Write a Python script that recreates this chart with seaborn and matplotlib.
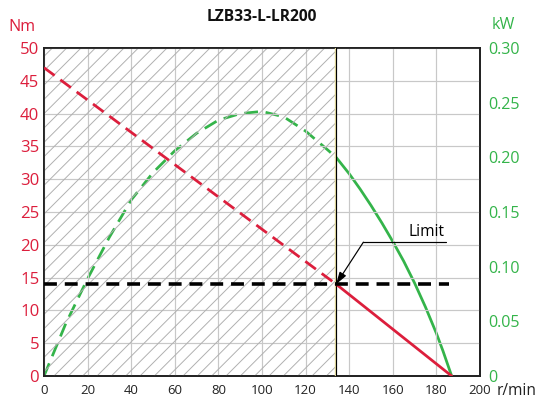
import matplotlib
matplotlib.use("Agg")
import matplotlib.pyplot as plt
import matplotlib.transforms as mtransforms
import seaborn as sns

# values
speed_limit = 134
limit_torque = 14
torque_speed_dashed = [0, 134]
torque_dashed = [47, 14]
torque_speed_solid = [134, 187]
torque_solid = [14, 0]
power_speed_dashed = [0, 10, 20, 30, 40, 50, 60, 70, 80, 90, 100, 110, 120, 130, 134]
power_dashed = [0, 0.048, 0.089, 0.127, 0.161, 0.186, 0.206, 0.222, 0.234, 0.240,
                0.242, 0.237, 0.224, 0.207, 0.200]
power_speed_solid = [134, 140, 145, 150, 155, 160, 165, 170, 175, 180, 183, 187]
power_solid = [0.200, 0.185, 0.171, 0.156, 0.140, 0.123, 0.105, 0.085, 0.063, 0.039,
               0.023, 0]
limit_line_x = [0, 186]
x_ticks = list(range(0, 201, 20))
torque_ticks = list(range(0, 51, 5))
power_ticks = [0, 0.05, 0.10, 0.15, 0.20, 0.25, 0.30]
power_labels = ["0", "0.05", "0.10", "0.15", "0.20", "0.25", "0.30"]
label_pos = (146.5, 20.4)
label_end = 184.4

RED = "#DC1E3C"
GREEN = "#34B44A"

sns.set_theme(style="white")
plt.rcParams["font.family"] = ["Open Sans", "DejaVu Sans"]
plt.rcParams["hatch.linewidth"] = 0.8
plt.rcParams["hatch.color"] = "#b0b0b0"

DPI = 86
fig = plt.figure(figsize=(541 / DPI, 401 / DPI), dpi=DPI)
ax = fig.add_axes([44 / 541, 1 - 376 / 401, 436 / 541, 328 / 401])
ax2 = ax.twinx()

ax.set_xlim(0, 200)
ax.set_ylim(0, 50)
ax2.set_ylim(0, 0.30)
ax.set_xticks(x_ticks)
ax.set_yticks(torque_ticks)
ax2.set_yticks(power_ticks)
ax2.set_yticklabels(power_labels)
ax.grid(True, color="#c8c8c8", lw=1.0)
ax.set_axisbelow(True)

# hatched region below the limit speed
ax.fill_between([0, speed_limit], 0, 50, facecolor="none", hatch="//",
                edgecolor="#b0b0b0", lw=0, zorder=1)

shift = mtransforms.offset_copy(ax.get_xaxis_transform(), fig=fig, x=-1.6, y=0,
                                units="dots")
ax.plot([speed_limit, speed_limit], [0, 1], color="#efe6a6", lw=1.2,
        transform=shift, zorder=3)
ax.axvline(speed_limit, color="black", lw=1.0, zorder=3)

sns.lineplot(x=power_speed_dashed, y=power_dashed, ax=ax2, color=GREEN, lw=2.3,
             linestyle=(0, (5.0, 2.8)), sort=False)
sns.lineplot(x=power_speed_solid, y=power_solid, ax=ax2, color=GREEN, lw=2.3, sort=False)
sns.lineplot(x=torque_speed_dashed, y=torque_dashed, ax=ax, color=RED, lw=2.3,
             linestyle=(0, (4.8, 2.6)), sort=False, zorder=4)
sns.lineplot(x=torque_speed_solid, y=torque_solid, ax=ax, color=RED, lw=2.3,
             sort=False, zorder=4)
ax.plot(limit_line_x, [limit_torque, limit_torque], color="black", lw=3.0,
        linestyle=(0, (3.6, 2.2)), zorder=4)
ax.set_zorder(ax2.get_zorder() + 1)
ax.patch.set_visible(False)

ax.plot([label_pos[0], label_end], [label_pos[1], label_pos[1]], color="black", lw=1.0)
ax.annotate("", xy=(speed_limit, limit_torque), xytext=label_pos,
            arrowprops=dict(arrowstyle="-|>,head_width=0.22,head_length=0.7",
                            color="black", lw=1.0, shrinkA=0, shrinkB=0))
ax.text(167, 21.3, "Limit", fontsize=13, color="black", ha="left", va="baseline")

for a in (ax, ax2):
    for s in a.spines.values():
        s.set_color("#222222")
        s.set_linewidth(1.5)
ax.tick_params(axis="x", length=0, pad=7, labelsize=11, labelcolor="#222222")
ax.tick_params(axis="y", length=0, pad=4, labelsize=14, labelcolor=RED)
ax2.tick_params(axis="y", length=0, pad=7, labelsize=13.5, labelcolor=GREEN)
ax.set_xlabel("")
ax.set_ylabel("")
ax2.set_ylabel("")

fig.text(262 / 541, 1 - 17 / 401, "LZB33-L-LR200", fontsize=13, fontweight="bold",
         ha="center", va="center", color="#111111")
fig.text(22 / 541, 1 - 27 / 401, "Nm", fontsize=13.5, color=RED, ha="center", va="center")
fig.text(503 / 541, 1 - 25 / 401, "kW", fontsize=13.5, color=GREEN, ha="center", va="center")
fig.text(497 / 541, 1 - 391 / 401, "r/min", fontsize=13, color="#222222",
         ha="left", va="center")

fig.savefig("out.png", dpi=DPI)
